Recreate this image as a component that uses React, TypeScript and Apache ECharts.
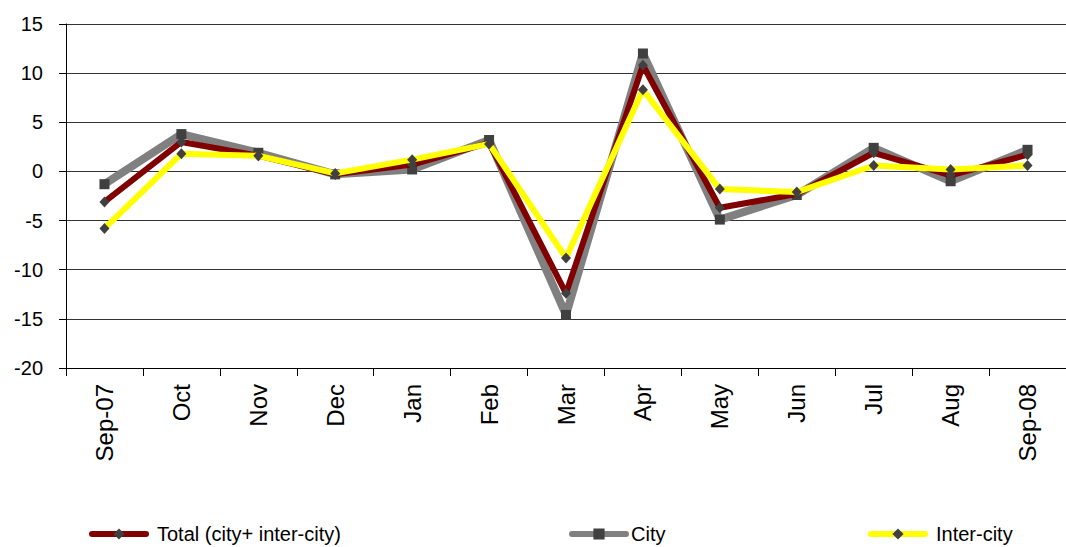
import React, { useEffect, useRef } from "react";
import * as echarts from "echarts";

const categories = ["Sep-07", "Oct", "Nov", "Dec", "Jan", "Feb", "Mar", "Apr", "May", "Jun", "Jul", "Aug", "Sep-08"];
const totalValues = [-3.1, 3.0, 1.6, -0.3, 0.7, 2.9, -12.4, 10.8, -3.7, -2.3, 1.9, -0.4, 1.7];
const cityValues = [-1.3, 3.8, 1.9, -0.3, 0.2, 3.2, -14.6, 12.0, -4.9, -2.4, 2.4, -1.0, 2.2];
const interCityValues = [-5.8, 1.8, 1.6, -0.2, 1.2, 2.8, -8.8, 8.3, -1.8, -2.1, 0.6, 0.2, 0.6];
const yTicks = { min: -20, max: 15, interval: 5 };

const FONT = "'Liberation Sans', Arial, sans-serif";

export default function App() {
  const ref = useRef<HTMLDivElement>(null);
  useEffect(() => {
    document.body.style.margin = "0";
    const chart = echarts.init(ref.current!, null, { renderer: "svg" });
    const legendCommon = {
      top: 523,
      padding: 0,
      itemWidth: 54,
      itemHeight: 14,
      lineStyle: { width: 6, cap: "round" },
      textStyle: { fontFamily: FONT, fontSize: 20, color: "#000", lineHeight: 22 },
    };
    chart.setOption({
      animation: false,
      backgroundColor: "#fff",
      grid: { left: 66, top: 24, width: 1011, height: 344 },
      legend: [
        { ...legendCommon, left: 89, data: ["Total (city+ inter-city)"], textStyle: { ...legendCommon.textStyle, padding: [0, 0, 0, 6] } },
        { ...legendCommon, left: 569, data: ["City"] },
        { ...legendCommon, left: 868, data: ["Inter-city"], textStyle: { ...legendCommon.textStyle, padding: [0, 0, 0, 6] } },
      ],
      xAxis: {
        type: "category",
        data: categories,
        boundaryGap: true,
        axisLine: { onZero: false, lineStyle: { color: "#000", width: 1 } },
        axisTick: { show: true, length: 8, lineStyle: { color: "#000" } },
        axisLabel: {
          rotate: 90,
          margin: 16,
          fontFamily: FONT,
          fontSize: 24,
          color: "#000",
          interval: 0,
        },
      },
      yAxis: {
        type: "value",
        min: yTicks.min,
        max: yTicks.max,
        interval: yTicks.interval,
        axisLine: { show: true, lineStyle: { color: "#000", width: 1 } },
        axisTick: { show: true, length: 7, lineStyle: { color: "#000" } },
        axisLabel: { margin: 23, fontFamily: FONT, fontSize: 20, color: "#000" },
        splitLine: { show: true, lineStyle: { color: "#333", width: 1 } },
      },
      series: [
        {
          name: "City",
          type: "line",
          data: cityValues,
          z: 2,
          lineStyle: { color: "#808080", width: 8 },
          itemStyle: { color: "#404040" },
          symbol: "rect",
          symbolSize: 10,
          color: "#808080",
        },
        {
          name: "Total (city+ inter-city)",
          type: "line",
          data: totalValues,
          z: 3,
          lineStyle: { color: "#800000", width: 6 },
          itemStyle: { color: "#404040" },
          symbol: "diamond",
          symbolSize: [10, 11],
          color: "#800000",
        },
        {
          name: "Inter-city",
          type: "line",
          data: interCityValues,
          z: 4,
          lineStyle: { color: "#FFFF00", width: 6 },
          itemStyle: { color: "#404040" },
          symbol: "diamond",
          symbolSize: [10, 11],
          color: "#FFFF00",
        },
      ],
    });
    return () => chart.dispose();
  }, []);
  return (
    <div
      ref={ref}
      style={{ position: "fixed", left: 0, top: 0, width: 1066, height: 547 }}
    />
  );
}
